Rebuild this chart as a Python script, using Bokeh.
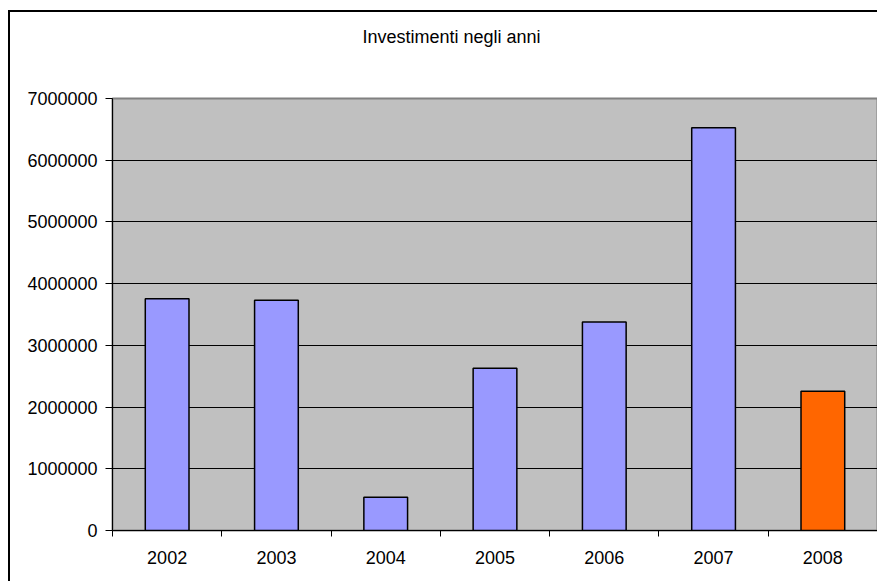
from bokeh.plotting import figure
from bokeh.models import (ColumnDataSource, FixedTicker, NumeralTickFormatter,
                          Range1d, Title)
from bokeh.embed import file_html
from bokeh.resources import INLINE

# ---- data ----
years = ["2002", "2003", "2004", "2005", "2006", "2007", "2008"]
investimenti = [3755000, 3730000, 540000, 2630000, 3380000, 6525000, 2255000]
y_ticks = [0, 1000000, 2000000, 3000000, 4000000, 5000000, 6000000, 7000000]

FONT = "Liberation Sans"
base_color = "#9999FF"
highlight_color = "#FF6600"

n = len(years)
xs = [i + 0.5 for i in range(n)]
colors = [base_color] * (n - 1) + [highlight_color]
src = ColumnDataSource(dict(x=xs, top=investimenti, color=colors, year=years))

p = figure(width=869, height=571, output_backend="svg", toolbar_location=None,
           x_range=Range1d(0, n), y_range=Range1d(0, y_ticks[-1]),
           min_border_left=102, min_border_top=86, min_border_right=2,
           min_border_bottom=53)
p.margin = (10, 0, 0, 8)
p.styles = {"border-left": "2px solid black", "border-top": "2px solid black"}

# spacer between title and plot area (nearest to the frame)
spacer = Title(text=" ", text_font=FONT, text_font_size="18px", standoff=25)
p.add_layout(spacer, "above")
title = Title(text="Investimenti negli anni", align="left", offset=250,
              text_font=FONT, text_font_size="18px", text_font_style="normal",
              text_color="black", standoff=10)
p.add_layout(title, "above")

p.background_fill_color = "#C0C0C0"
p.border_fill_color = "white"
p.outline_line_color = "#808080"
p.outline_line_width = 2

p.vbar(x="x", top="top", width=0.4, bottom=0, source=src,
       fill_color="color", line_color="black", line_width=1.5)

# y axis
p.yaxis.ticker = FixedTicker(ticks=y_ticks)
p.yaxis.formatter = NumeralTickFormatter(format="0")
p.yaxis.major_tick_out = 7
p.yaxis.major_tick_in = 0
p.yaxis.minor_tick_out = 0
p.yaxis.minor_tick_in = 0
p.yaxis.major_label_standoff = 8
p.yaxis.major_label_text_font = FONT
p.yaxis.major_label_text_font_size = "18px"
p.yaxis.major_label_text_color = "black"
p.yaxis.axis_line_color = "black"
p.yaxis.major_tick_line_color = "black"

# x axis: labels at centers, ticks at category boundaries
p.xaxis.ticker = FixedTicker(ticks=xs, minor_ticks=list(range(n + 1)))
p.xaxis.major_label_overrides = {x: y for x, y in zip(xs, years)}
p.xaxis.major_tick_out = 0
p.xaxis.major_tick_in = 0
p.xaxis.minor_tick_out = 6
p.xaxis.minor_tick_in = 0
p.xaxis.minor_tick_line_color = "black"
p.xaxis.major_label_standoff = 14
p.xaxis.major_label_text_font = FONT
p.xaxis.major_label_text_font_size = "18px"
p.xaxis.major_label_text_color = "black"
p.xaxis.axis_line_color = "black"

p.xgrid.visible = False
p.ygrid.ticker = FixedTicker(ticks=y_ticks[1:-1])
p.ygrid.grid_line_color = "black"
p.ygrid.grid_line_width = 1

open("out.html", "w").write(file_html(p, INLINE))
